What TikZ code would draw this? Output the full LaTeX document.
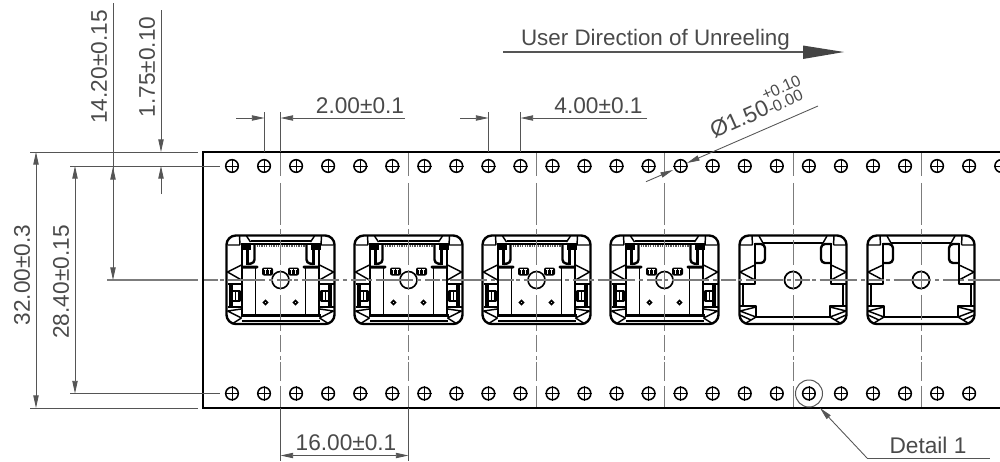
\documentclass[tikz,border=0pt]{standalone}
\usepackage{fontspec}
\setmainfont{Liberation Sans}
\usetikzlibrary{arrows.meta}
\definecolor{dimc}{HTML}{555555}
\definecolor{txtc}{HTML}{4a4a4a}
\definecolor{cl}{HTML}{7c7c7c}
\tikzset{
  obj/.style={black,line width=1.1pt,line join=round},
  thk/.style={black,line width=1.8pt,line join=round},
  thn/.style={black,line width=.8pt,line join=round},
  tape/.style={black,line width=1.3pt},
  dimline/.style={dimc,line width=.65pt},
  extline/.style={dimc,line width=.75pt},
  centerv/.style={cl,line width=.7pt,dash pattern=on 18pt off 5.2pt on 31.5pt off 3pt on 4.5pt off 3.75pt on 18.75pt off 3.75pt on 15pt off 3.75pt on 18.75pt off 3.75pt on 4.5pt off 3pt on 12.75pt off 3pt on 3pt off 1.5pt on 14.25pt off 3.75pt on 19.5pt},
  centerh/.style={cl,line width=.8pt,dash pattern=on 11pt off 2pt on 2.5pt off 3pt on 28pt off 3pt on 3pt off 3pt},
  lab/.style={text=txtc,font=\fontsize{17}{20}\selectfont,inner sep=0pt},
  head/.tip={Stealth[length=9.5pt,width=4pt,inset=0pt]},
  hole/.pic={
    \draw[black,line width=1.15pt] (0,0) circle (6.3);
    \draw[black,line width=.55pt] (-7.3,0) -- (7.3,0) (0,-7.3) -- (0,7.3);
  },
  pockethalf/.pic={
    \draw[obj] (-41,-44) -- (-40.5,-35) (-34,-44) -- (-30,-37) (-53,-35) -- (-40.5,-35);
    \draw[thk] (-30,-37) -- (0,-37);
    \draw[thk] (-38,-37) -- (-38,4) -- (-53,4);
    \draw[thk,rounded corners=3pt] (-38,-36) -- (-28,-36) -- (-28,-17) -- (-38,-17);
    \draw[obj] (-38,-15) -- (-53,-8) -- (-38,0);
    \draw[obj] (-50,4) -- (-50,26);
    \draw[thk] (-53,26) -- (-37,26) -- (-37,37) -- (0,37);
    \draw[obj] (-53,31) -- (-37,27) (-53,31) -- (-37,37) (-47,43) -- (-37,37) (-53,35) -- (-42,40);
  },
  fullhalf/.pic={
    \draw[obj] (-41,-44) -- (-40.5,-35) (-34,-44) -- (-30,-38) (-53,-35) -- (-40.5,-35);
    \draw[obj] (-30,-39) -- (0,-39);
    \fill[black] (-40,-37) rectangle (0,-35.5);
    \draw[black!65,line width=1.1pt,dash pattern=on 1pt off .8pt] (-24,-34) -- (0,-34);
    \fill[black] (-40,-37) rectangle (-30,-30);
    \draw[thk] (-38.5,-36) -- (-38.5,37);
    \draw[thk] (-33,-32) -- (-33,-15);
    \draw[thk,rounded corners=2.5pt] (-26,-35) -- (-26,-17) -- (-33,-16);
    \fill[black,rounded corners=1pt] (-39,-14.5) rectangle (-22,-11.5);
    \draw[obj] (-25,-12) -- (-25,35);
    \draw[obj] (-39,-15) -- (-53,-8) -- (-39,0);
    \draw[obj] (-39,4) -- (-53,4);
    \draw[thk] (-50.5,4) -- (-50.5,28);
    \draw[thk] (-48.5,11) rectangle (-41,21);
    \draw[obj] (-48.5,5) -- (-48.5,26) (-45,11) -- (-45,21);
    \draw[obj] (-53,27) -- (-39,27);
    \draw[obj] (-53,31) -- (-39,29) (-53,31) -- (-39,38) (-47,43) -- (-39,38);
    \fill[black] (-40,34) rectangle (0,37);
    \draw[obj] (-39,41) -- (0,41);
    \fill[black,rounded corners=1.5pt] (-18.5,-12.5) rectangle (-7.5,-4.5);
    \draw[white,line width=.55pt] (-16.5,-10.3) -- (-13.8,-10.3) (-15.1,-10.3) -- (-15.1,-6.5)
       (-12.2,-10.3) -- (-9.5,-10.3) (-10.8,-10.3) -- (-10.8,-6.5);
    \draw[black,line width=1.2pt] (-15,22.5) circle (1.9);
  },
  blankpocket/.pic={
    \draw[thk,rounded corners=7pt] (-53.5,-44.5) rectangle (53.5,44);
    \pic {pockethalf};
    \pic[xscale=-1] {pockethalf};
    \draw[thk,line width=1.3pt] (0,0) circle (8.5);
  },
  fullpocket/.pic={
    \draw[thk,rounded corners=7pt] (-54,-44.5) rectangle (54,44);
    \pic {fullhalf};
    \pic[xscale=-1] {fullhalf};
    \draw[thk,line width=1.2pt] (0,0) circle (8.5);
  }
}
\begin{document}
\begin{tikzpicture}[x=.75pt,y=-.75pt]
\useasboundingbox (0,0) rectangle (1000,461);
\clip (0,0) rectangle (1000,461);
% pockets
\foreach \cx in {280.5,408.5,536.5,664.5}
  \pic at (\cx,280) {fullpocket};
\foreach \cx in {793,921}
  \pic at (\cx,280) {blankpocket};
% centre lines
\draw[centerh] (203,280) -- (1000,280);
\foreach \cx in {280.5,408.5,536.5,664.5,793.4,921.4}
  \draw[centerv] (\cx,152) -- (\cx,408);
% tape
\draw[tape] (1000,152) -- (203,152) -- (203,408) -- (1000,408);
% sprocket holes
\foreach \i in {0,...,24}
  \pic at ({232+32.05*\i},166) {hole};
\foreach \i in {0,...,23}
  \pic at ({232+32.05*\i},393.5) {hole};
% extension lines
\draw[extline] (30,152) -- (198,152) (70,166) -- (220,166) (70,393.5) -- (220,393.5) (30,408) -- (198,408);
\draw[cl,line width=1pt] (107,280) -- (198,280);
\draw[extline] (264.5,112) -- (264.5,152) (280.5,112) -- (280.5,152)
  (488.5,112) -- (488.5,152) (520.5,112) -- (520.5,152)
  (280.5,408) -- (280.5,461) (408.5,408) -- (408.5,461);
% vertical dimensions
\draw[dimline,{head}-{head}] (36,152) -- (36,408);
\draw[dimline,{head}-{head}] (75,166) -- (75,393.5);
\draw[dimline,-{head}] (113,3) -- (113,280);
\draw[dimline,-{head}] (113,200) -- (113,167);
\draw[dimline,-{head}] (161,10) -- (161,152);
\draw[dimline,-{head}] (161,194) -- (161,166);
% horizontal dimensions
\draw[dimline,-{head}] (236,118) -- (264.5,118);
\draw[dimline,-{head}] (405,118) -- (280.5,118);
\draw[dimline,-{head}] (460,118) -- (488.5,118);
\draw[dimline,-{head}] (647,118) -- (520.5,118);
\draw[dimline,{head}-{head}] (280.5,455.5) -- (408.5,455.5);
% diameter leader
\draw[dimline,-{head}] (646,181.7) -- (673,170);
\draw[dimline,-{head}] (818,106) -- (687,163);
% direction arrow
\draw[dimc,line width=2.2pt] (503,52) -- (805,52);
\fill[dimc!80!black] (803,45.5) -- (844,52) -- (803,59) -- cycle;
% detail 1
\draw[extline] (809,393.5) circle (13.5);
\draw[dimline,-{head}] (867,458) -- (820,408);
\draw[dimline] (867,458) -- (990,458);
% labels
\node[lab,rotate=90] (l1420) at (99,67) {14.20±0.15};
\node[lab,rotate=90] (l175) at (147,67) {1.75±0.10};
\node[lab,rotate=90] (l3200) at (22,275) {32.00±0.3};
\node[lab,rotate=90] (l2840) at (61,282) {28.40±0.15};
\node[lab,anchor=base] (l200) at (360,113) {2.00±0.1};
\node[lab,anchor=base] (l400) at (598.5,113) {4.00±0.1};
\node[lab,anchor=base] (l1600) at (346,450) {16.00±0.1};
\node[lab,anchor=base] (ldir) at (655.5,45) {\fontsize{16.8}{20}\selectfont User Direction of Unreeling};
\node[lab,anchor=base] (ldet) at (928,453) {Detail 1};
\node[lab,anchor=base west,rotate=24] (ldia) at (714,139) {Ø1.50\rlap{\raisebox{.62em}{\fontsize{12}{12}\selectfont +0.10}}\raisebox{-.02em}{\fontsize{12}{12}\selectfont -0.00}};
\end{tikzpicture}
\end{document}
